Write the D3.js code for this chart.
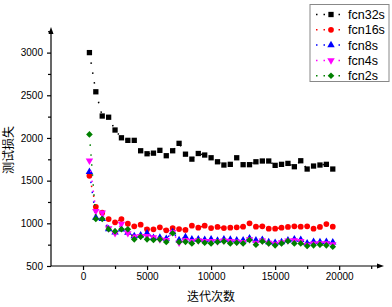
<!DOCTYPE html>
<html lang="zh">
<head>
<meta charset="UTF-8">
<script src="https://d3js.org/d3.v7.min.js"></script>
<style>
  body { margin: 0; background: #fff; }
  text { font-family: "Liberation Sans", Arial, sans-serif; }
  .cjk { font-family: "Noto Sans CJK SC", sans-serif; }
</style>
</head>
<body>
<svg width="392" height="307"></svg>
<script>
// iterations: 500 .. 19500 step 500
const iters = [500, 1000, 1500, 2000, 2500, 3000, 3500, 4000, 4500, 5000,
  5500, 6000, 6500, 7000, 7500, 8000, 8500, 9000, 9500, 10000,
  10500, 11000, 11500, 12000, 12500, 13000, 13500, 14000, 14500, 15000,
  15500, 16000, 16500, 17000, 17500, 18000, 18500, 19000, 19500];

const fcn32s = [3000, 2541, 2257, 2243, 2093, 2002, 1972, 1972, 1850, 1815,
  1822, 1855, 1792, 1850, 1937, 1810, 1752, 1818, 1800, 1768,
  1721, 1683, 1691, 1768, 1687, 1687, 1721, 1730, 1730, 1679,
  1691, 1702, 1663, 1733, 1636, 1671, 1683, 1691, 1636];
const fcn16s = [1557, 1194, 1124, 1050, 1012, 1050, 995, 965, 984, 930,
  930, 953, 918, 945, 933, 923, 972, 949, 972, 945,
  957, 945, 949, 953, 960, 1000, 960, 965, 937, 937,
  949, 957, 965, 960, 965, 937, 957, 992, 960];
const fcn8s = [1604, 1068, 1052, 933, 895, 930, 890, 851, 859, 883,
  831, 834, 820, 898, 804, 838, 812, 812, 806, 812,
  798, 812, 810, 800, 800, 824, 800, 808, 781, 773,
  781, 800, 812, 806, 765, 785, 781, 783, 778];
const fcn4s = [1733, 1144, 1124, 941, 883, 992, 883, 843, 851, 851,
  836, 812, 804, 898, 773, 804, 790, 800, 790, 792,
  788, 798, 790, 786, 780, 812, 772, 796, 772, 760,
  776, 798, 800, 790, 748, 762, 764, 766, 752];
const fcn2s = [2042, 1050, 1050, 930, 906, 930, 930, 812, 843, 812,
  804, 812, 781, 883, 781, 783, 765, 792, 773, 765,
  781, 788, 765, 773, 765, 804, 750, 788, 765, 742,
  765, 792, 765, 765, 734, 742, 750, 742, 726];

const names = ["fcn32s", "fcn16s", "fcn8s", "fcn4s", "fcn2s"];
const colors = ["#000000", "#ff0000", "#0000ff", "#ff00ff", "#008000"];
const seriesVals = [fcn32s, fcn16s, fcn8s, fcn4s, fcn2s];

const xTicks = [0, 5000, 10000, 15000, 20000];
const xMinor = [2500, 7500, 12500, 17500, 22500];
const yTicks = [500, 1000, 1500, 2000, 2500, 3000];
const yMinor = [750, 1250, 1750, 2250, 2750, 3250];

const svg = d3.select("svg");

const x = d3.scaleLinear().domain([-2500, 23500]).range([51, 384]);
const y = d3.scaleLinear().domain([500, 3300]).range([266, 27]);

// symbols per series
const sym = [
  {type: d3.symbolSquare, size: 28, rot: 0},
  {type: d3.symbolCircle, size: 26, rot: 0},
  {type: d3.symbolTriangle, size: 24, rot: 0},
  {type: d3.symbolTriangle, size: 24, rot: 180},
  {type: d3.symbolSquare, size: 22, rot: 45}
];

// axes
const xAxis = svg.append("g").attr("transform", `translate(0,${y(500)})`);
xAxis.call(d3.axisBottom(x).tickValues(xTicks).tickSize(4).tickSizeOuter(0).tickPadding(3).tickFormat(d3.format("d")));
xAxis.append("g").call(d3.axisBottom(x).tickValues(xMinor).tickSize(3).tickSizeOuter(0).tickFormat(""))
  .select(".domain").remove();
xAxis.select(".domain").attr("d", `M${x(-2500)},0H${x(23500) - 4}`);

const yAxis = svg.append("g").attr("transform", `translate(${x(-2500)},0)`);
yAxis.call(d3.axisLeft(y).tickValues(yTicks).tickSize(4).tickSizeOuter(0).tickPadding(4).tickFormat(d3.format("d")));
yAxis.append("g").call(d3.axisLeft(y).tickValues(yMinor).tickSize(3).tickSizeOuter(0).tickFormat(""))
  .select(".domain").remove();
yAxis.select(".domain").attr("d", `M0,${y(500)}V${y(3300) + 4}`);

svg.selectAll(".tick text").attr("font-size", 10).attr("font-family", "Liberation Sans, Arial, sans-serif").attr("fill", "#000");
svg.selectAll(".domain, .tick line").attr("stroke", "#000").attr("stroke-width", 1.2);

// arrow heads
svg.append("path")
  .attr("d", `M${x(23500)},${y(500)}l-7,-2.5v5z`).attr("fill", "#000");
svg.append("path")
  .attr("d", `M${x(-2500)},${y(3300)}l-2.5,7h5z`).attr("fill", "#000");

// series
const line = d3.line().x((d, i) => x(iters[i])).y(d => y(d));
seriesVals.forEach((vals, k) => {
  svg.append("path")
    .datum(vals)
    .attr("d", line)
    .attr("fill", "none")
    .attr("stroke", colors[k])
    .attr("stroke-width", 1.5)
    .attr("stroke-dasharray", "1.5,8.5");
  svg.append("g").selectAll("path")
    .data(vals)
    .join("path")
    .attr("d", d3.symbol().type(sym[k].type).size(sym[k].size))
    .attr("transform", (d, i) => `translate(${x(iters[i])},${y(d)}) rotate(${sym[k].rot})`)
    .attr("fill", colors[k]);
});

// axis titles
svg.append("text")
  .attr("class", "cjk")
  .attr("x", 211).attr("y", 301)
  .attr("text-anchor", "middle")
  .attr("font-size", 12)
  .text("迭代次数");
svg.append("text")
  .attr("class", "cjk")
  .attr("transform", "translate(13,150) rotate(-90)")
  .attr("text-anchor", "middle")
  .attr("font-size", 12)
  .text("测试损失");

// legend
const lg = svg.append("g");
lg.append("rect")
  .attr("x", 310).attr("y", 4.5).attr("width", 79).attr("height", 77)
  .attr("fill", "#fff").attr("stroke", "#888").attr("stroke-width", 1);
names.forEach((n, k) => {
  const ly = 14.5 + k * 15.3;
  lg.append("line")
    .attr("x1", 316).attr("x2", 340).attr("y1", ly).attr("y2", ly)
    .attr("stroke", colors[k]).attr("stroke-width", 1.5)
    .attr("stroke-dasharray", "1.5,6");
  lg.append("path")
    .attr("d", d3.symbol().type(sym[k].type).size(sym[k].size))
    .attr("transform", `translate(331,${ly}) rotate(${sym[k].rot})`)
    .attr("fill", colors[k]);
  lg.append("text")
    .attr("x", 348).attr("y", ly + 4.5)
    .attr("font-size", 12.5)
    .text(n);
});
</script>
</body>
</html>
